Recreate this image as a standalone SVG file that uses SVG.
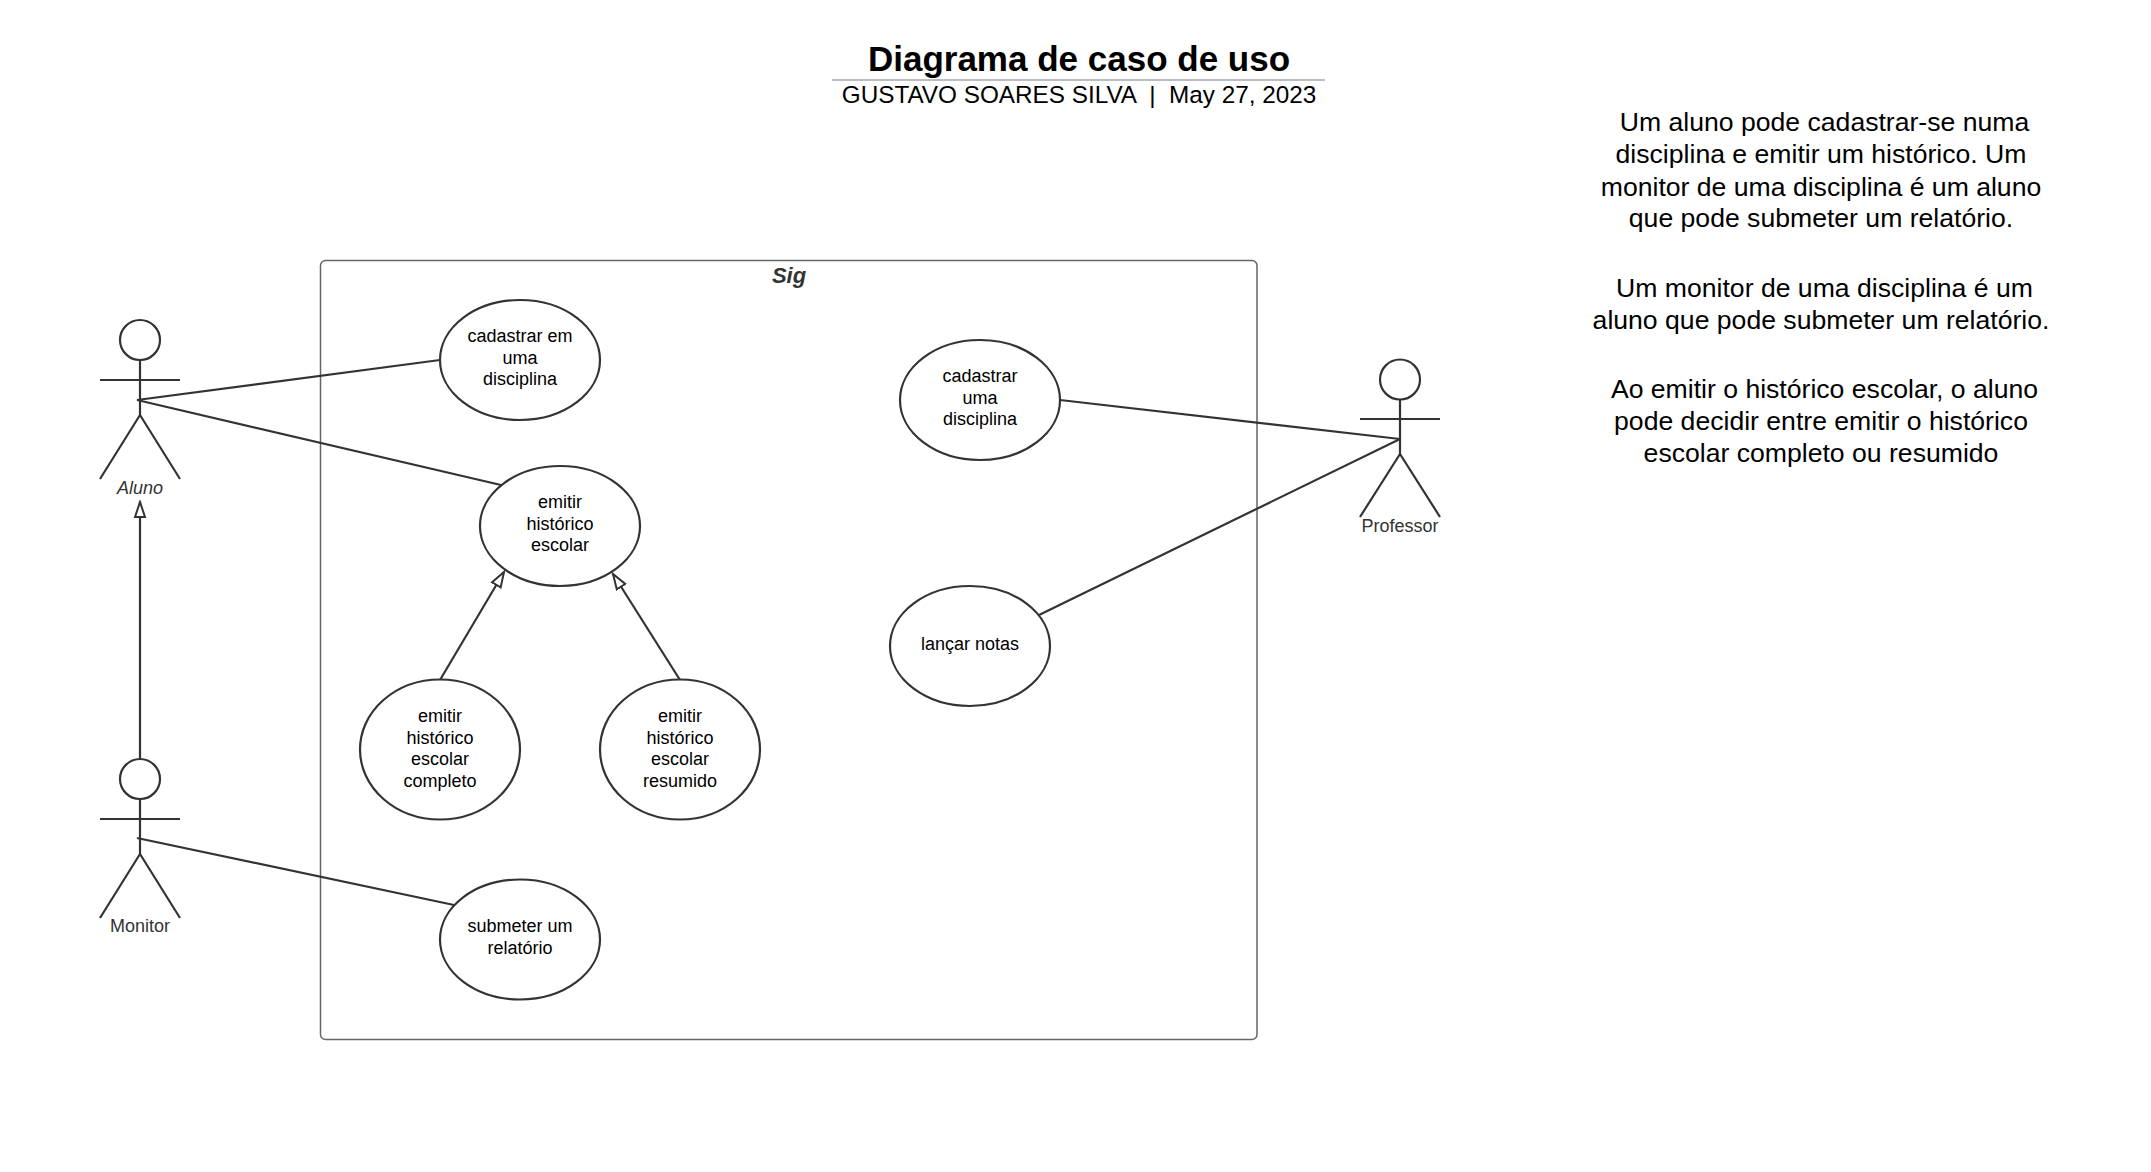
<svg xmlns="http://www.w3.org/2000/svg" width="2151" height="1172" viewBox="0 0 2151 1172">
<defs>
<style>
text{font-family:"Liberation Sans",Arial,sans-serif;text-anchor:middle}
.uc{fill:#fff;stroke:#333;stroke-width:2.2}
.l{font-size:18px;fill:#000}
.a{font-size:18px;fill:#333}
.s{fill:none;stroke:#333;stroke-width:2.2}
.n{font-size:26.6px;fill:#000}
</style>
<marker id="gen" markerUnits="userSpaceOnUse" markerWidth="18" markerHeight="14" refX="16" refY="7" orient="auto" viewBox="0 0 18 14"><path d="M1 2L16 7L1 12Z" fill="#fff" stroke="#333" stroke-width="2"/></marker>
</defs>
<rect width="2151" height="1172" fill="#fff"/>
<g id="title">
<text x="1079" y="71" font-size="35" font-weight="bold">Diagrama de caso de uso</text>
<line x1="832" y1="80" x2="1325" y2="80" stroke="#a3a8b0" stroke-width="1.5"/>
<text x="1079" y="103" font-size="24.3" xml:space="preserve">GUSTAVO SOARES SILVA  |  May 27, 2023</text>
</g>
<g id="system">
<rect x="320.500" y="260.500" width="936.500" height="779" rx="5" fill="#fff" stroke="#666" stroke-width="1.500"/>
<text x="789" y="283" font-size="22" font-weight="bold" font-style="italic" fill="#333">Sig</text>
</g>
<g id="connectors" class="s">
<line x1="137" y1="400" x2="440" y2="360"/>
<line x1="137" y1="400" x2="501" y2="485"/>
<line x1="137" y1="838" x2="454" y2="905"/>
<line x1="1400" y1="439" x2="1060" y2="400"/>
<line x1="1400" y1="439" x2="1039" y2="615"/>
<line x1="140" y1="760" x2="140" y2="502" marker-end="url(#gen)"/>
<line x1="440" y1="680" x2="504" y2="572" marker-end="url(#gen)"/>
<line x1="680" y1="680" x2="613" y2="574" marker-end="url(#gen)"/>
</g>
<g id="actor-aluno">
<circle class="s" cx="140" cy="340" r="20"/>
<path class="s" d="M140 360V415M100 380H180M100 479L140 415L180 479"/>
<text class="a" x="140" y="494" font-style="italic">Aluno</text>
</g>
<g id="actor-monitor">
<circle class="s" cx="140" cy="779" r="20"/>
<path class="s" d="M140 799V854M100 819H180M100 918L140 854L180 918"/>
<text class="a" x="140" y="932">Monitor</text>
</g>
<g id="actor-professor">
<circle class="s" cx="1400" cy="379.500" r="20"/>
<path class="s" d="M1400 399.500V454M1360 419H1440M1360 517L1400 454L1440 517"/>
<text class="a" x="1400" y="532">Professor</text>
</g>
<g id="uc-cadastrar-em">
<ellipse class="uc" cx="520" cy="360" rx="80" ry="60"/>
<text class="l"><tspan x="520" y="342">cadastrar em</tspan><tspan x="520" y="363.500">uma</tspan><tspan x="520" y="385">disciplina</tspan></text>
</g>
<g id="uc-emitir">
<ellipse class="uc" cx="560" cy="526" rx="80" ry="60"/>
<text class="l"><tspan x="560" y="508">emitir</tspan><tspan x="560" y="530">histórico</tspan><tspan x="560" y="551">escolar</tspan></text>
</g>
<g id="uc-completo">
<ellipse class="uc" cx="440" cy="749.500" rx="80" ry="70"/>
<text class="l"><tspan x="440" y="722">emitir</tspan><tspan x="440" y="743.500">histórico</tspan><tspan x="440" y="765">escolar</tspan><tspan x="440" y="787">completo</tspan></text>
</g>
<g id="uc-resumido">
<ellipse class="uc" cx="680" cy="749.500" rx="80" ry="70"/>
<text class="l"><tspan x="680" y="722">emitir</tspan><tspan x="680" y="743.500">histórico</tspan><tspan x="680" y="765">escolar</tspan><tspan x="680" y="787">resumido</tspan></text>
</g>
<g id="uc-submeter">
<ellipse class="uc" cx="520" cy="939.500" rx="80" ry="60"/>
<text class="l"><tspan x="520" y="932">submeter um</tspan><tspan x="520" y="954">relatório</tspan></text>
</g>
<g id="uc-cadastrar-uma">
<ellipse class="uc" cx="980" cy="400" rx="80" ry="60"/>
<text class="l"><tspan x="980" y="382">cadastrar</tspan><tspan x="980" y="403.500">uma</tspan><tspan x="980" y="425">disciplina</tspan></text>
</g>
<g id="uc-lancar">
<ellipse class="uc" cx="970" cy="646" rx="80" ry="60"/>
<text class="l"><tspan x="970" y="650">lançar notas</tspan></text>
</g>
<g id="note">
<text class="n"><tspan x="1824.500" y="131">Um aluno pode cadastrar-se numa</tspan><tspan x="1821" y="163">disciplina e emitir um histórico. Um</tspan><tspan x="1821" y="195.500">monitor de uma disciplina é um aluno</tspan><tspan x="1821" y="227">que pode submeter um relatório.</tspan><tspan x="1824.500" y="296.500">Um monitor de uma disciplina é um</tspan><tspan x="1821" y="328.500">aluno que pode submeter um relatório.</tspan><tspan x="1824.500" y="398">Ao emitir o histórico escolar, o aluno</tspan><tspan x="1821" y="430">pode decidir entre emitir o histórico</tspan><tspan x="1821" y="462">escolar completo ou resumido</tspan></text>
</g>
</svg>
